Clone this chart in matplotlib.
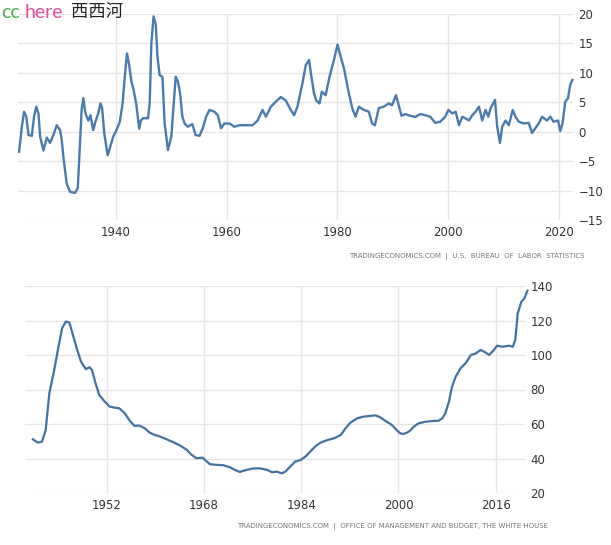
import numpy as np
import matplotlib.pyplot as plt

# inflation rate (top panel)
infl_year = [1922.5, 1923.0, 1923.4, 1923.8, 1924.2, 1924.8, 1925.2, 1925.6, 1926.0, 1926.3,
             1926.9, 1927.5, 1928.1, 1928.7, 1929.3, 1929.9, 1930.2, 1930.5, 1931.1, 1931.7,
             1932.6, 1933.1, 1933.5, 1933.8, 1934.1, 1934.5, 1935.0, 1935.4, 1935.9, 1936.3,
             1936.8, 1937.2, 1937.5, 1937.9, 1938.5, 1938.9, 1939.5, 1940.1, 1940.7, 1941.2,
             1941.6, 1942.0, 1942.4, 1942.8, 1943.2, 1943.7, 1944.2, 1944.5, 1944.9, 1945.8,
             1946.1, 1946.4, 1946.8, 1947.2, 1947.5, 1947.9, 1948.4, 1948.8, 1949.4, 1950.0,
             1950.4, 1950.8, 1951.2, 1951.6, 1952.0, 1952.4, 1953.0, 1953.8, 1954.4, 1955.1,
             1955.7, 1956.3, 1956.9, 1957.8, 1958.4, 1959.0, 1959.6, 1960.5, 1961.4, 1962.3,
             1963.5, 1964.7, 1965.6, 1966.5, 1967.1, 1968.0, 1968.9, 1969.8, 1970.7, 1971.6,
             1972.2, 1972.8, 1973.7, 1974.3, 1974.9, 1975.3, 1975.8, 1976.2, 1976.8, 1977.2,
             1977.9, 1978.6, 1979.4, 1980.05, 1980.6, 1981.2, 1981.5, 1982.1, 1982.7, 1983.3,
             1983.9, 1984.8, 1985.7, 1986.3, 1986.8, 1987.5, 1988.4, 1989.3, 1989.9, 1990.6,
             1991.1, 1991.6, 1992.3, 1993.2, 1994.1, 1995.0, 1995.9, 1996.8, 1997.7, 1998.6,
             1999.5, 2000.1, 2000.8, 2001.4, 2002.0, 2002.6, 2003.3, 2003.8, 2004.4, 2005.0,
             2005.6, 2006.2, 2006.8, 2007.3, 2007.7, 2008.5, 2008.9, 2009.4, 2009.8, 2010.4,
             2011.0, 2011.7, 2012.2, 2012.8, 2013.7, 2014.6, 2015.2, 2015.8, 2016.4, 2017.0,
             2017.9, 2018.5, 2019.1, 2019.9, 2020.3, 2020.7, 2021.2, 2021.7, 2022.1, 2022.5]
infl_value = [-3.4, 0.85, 3.4, 2.55, -0.56, -0.7, 2.55, 4.25, 3.1, -0.85,
              -3.2, -1.0, -1.9, -0.56, 1.1, 0.28, -1.4, -4.25, -8.8, -10.2,
              -10.4, -9.6, -1.9, 3.7, 5.7, 3.1, 1.9, 2.8, 0.28, 1.7,
              3.1, 4.8, 4.0, -0.3, -4.0, -2.8, -0.85, 0.28, 1.7, 4.8,
              9.35, 13.3, 11.3, 8.5, 7.1, 4.5, 0.5, 1.9, 2.3, 2.3,
              4.8, 15.0, 19.6, 18.2, 12.8, 9.6, 9.35, 1.4, -3.1, -0.85,
              4.25, 9.35, 8.5, 6.5, 2.55, 1.4, 0.85, 1.3, -0.56, -0.7,
              0.6, 2.55, 3.7, 3.4, 2.8, 0.6, 1.4, 1.4, 0.85, 1.1,
              1.1, 1.1, 1.9, 3.7, 2.55, 4.25, 5.1, 5.9, 5.3, 3.7,
              2.8, 4.25, 8.2, 11.3, 12.2, 9.5, 6.5, 5.3, 4.8, 6.8,
              6.2, 9.35, 12.2, 14.8, 12.8, 10.8, 9.35, 6.5, 4.0, 2.55,
              4.25, 3.7, 3.4, 1.4, 1.1, 4.0, 4.25, 4.8, 4.5, 6.2,
              4.5, 2.7, 3.0, 2.7, 2.5, 3.0, 2.8, 2.55, 1.5, 1.7,
              2.55, 3.7, 3.1, 3.4, 1.1, 2.55, 2.2, 1.9, 2.8, 3.4,
              4.25, 1.9, 3.7, 2.55, 4.0, 5.4, 0.85, -1.9, 0.85, 1.9,
              1.1, 3.7, 2.55, 1.7, 1.4, 1.5, -0.2, 0.6, 1.4, 2.55,
              1.9, 2.55, 1.7, 1.9, 0.1, 1.4, 5.1, 5.7, 8.0, 8.8]

# government debt to GDP (bottom panel)
debt_year = [1939.9, 1940.7, 1941.4, 1942.0, 1942.6, 1943.4, 1944.1, 1944.7, 1945.3, 1945.9,
             1946.4, 1947.1, 1947.8, 1948.6, 1949.2, 1949.6, 1950.2, 1950.8, 1951.7, 1952.5,
             1953.3, 1954.1, 1955.0, 1955.8, 1956.6, 1957.4, 1958.3, 1959.1, 1959.9, 1960.8,
             1961.9, 1963.0, 1964.1, 1965.2, 1966.0, 1966.8, 1967.8, 1968.5, 1969.0, 1970.1,
             1971.2, 1972.3, 1973.1, 1973.9, 1975.0, 1976.1, 1977.2, 1978.4, 1979.2, 1980.0,
             1980.8, 1981.4, 1982.2, 1983.0, 1983.9, 1984.7, 1985.5, 1986.4, 1987.2, 1988.3,
             1989.4, 1990.5, 1991.3, 1992.1, 1993.2, 1994.3, 1995.4, 1996.2, 1997.0, 1997.8,
             1998.7, 1999.2, 1999.8, 2000.3, 2000.8, 2001.4, 2001.9, 2002.5, 2003.3, 2004.4,
             2005.5, 2006.6, 2007.2, 2007.7, 2008.3, 2008.8, 2009.4, 2010.2, 2011.1, 2011.9,
             2012.7, 2013.5, 2014.1, 2014.9, 2015.6, 2016.2, 2017.1, 2018.2, 2018.8, 2019.2,
             2019.6, 2020.2, 2020.7, 2021.2]
debt_value = [51.1, 49.2, 49.8, 56.5, 77.8, 91.3, 104.8, 115.5, 119.4, 118.8,
              112.6, 103.9, 96.2, 91.8, 92.9, 91.3, 83.6, 76.8, 73.0, 70.1,
              69.5, 69.1, 66.2, 62.0, 58.9, 59.1, 57.5, 55.0, 53.7, 52.7,
              51.1, 49.4, 47.5, 45.0, 42.1, 40.1, 40.5, 38.2, 36.7, 36.3,
              36.1, 34.9, 33.4, 32.2, 33.4, 34.2, 34.3, 33.4, 32.0, 32.4,
              31.4, 32.4, 35.3, 38.2, 39.1, 41.1, 44.0, 47.3, 49.2, 50.7,
              51.7, 53.6, 57.5, 60.8, 63.3, 64.3, 64.7, 65.0, 63.9, 61.9,
              60.0, 58.4, 56.1, 54.6, 54.2, 55.0, 56.1, 58.4, 60.4, 61.3,
              61.7, 61.9, 63.3, 66.2, 73.0, 81.6, 87.4, 92.3, 95.5, 100.0,
              100.9, 102.9, 101.9, 100.0, 102.5, 105.4, 104.8, 105.4, 104.8, 108.7,
              124.1, 130.9, 132.8, 137.3]

top_xticks = [1940, 1960, 1980, 2000, 2020]
top_yticks = [-15, -10, -5, 0, 5, 10, 15, 20]
bot_xticks = [1952, 1968, 1984, 2000, 2016]
bot_yticks = [20, 40, 60, 80, 100, 120, 140]

W, H = 611, 545
fig = plt.figure(figsize=(W / 100, H / 100), dpi=100)
tick_font = ['Liberation Sans Narrow', 'DejaVu Sans']
line_color = '#4a7bab'
grid_color = '#e6e6e6'


def style(ax, xticks, yticks):
    for s in ax.spines.values():
        s.set_visible(False)
    ax.set_xticks(xticks)
    ax.set_yticks(yticks)
    ax.yaxis.tick_right()
    ax.tick_params(length=0, labelsize=8.5, labelcolor='#333333', pad=4)
    for lab in ax.get_xticklabels() + ax.get_yticklabels():
        lab.set_family(tick_font)
    for lab in ax.get_yticklabels():
        lab.set_horizontalalignment('left')
    ax.grid(True, color=grid_color, linewidth=1.0)
    ax.set_axisbelow(True)


# top panel
ax1 = fig.add_axes([18 / W, 1 - 220 / H, (573 - 18) / W, (220 - 14) / H])
ax1.plot(infl_year, infl_value, color=line_color, linewidth=1.7, clip_on=False)
ax1.set_xlim(1922.3, 2022.6)
ax1.set_ylim(-15, 20)
style(ax1, top_xticks, top_yticks)
fig.text(585 / W, 1 - 256 / H, 'TRADINGECONOMICS.COM  |  U.S.  BUREAU  OF  LABOR  STATISTICS',
         ha='right', va='center', fontsize=5, color='#777777', family=tick_font)

# bottom panel
ax2 = fig.add_axes([25 / W, 1 - 493 / H, (525 - 25) / W, (493 - 286) / H])
ax2.plot(debt_year, debt_value, color='#44729f', linewidth=1.6, clip_on=False)
ax2.set_xlim(1938.6, 2020.8)
ax2.set_ylim(20, 140)
style(ax2, bot_xticks, bot_yticks)
fig.text(548 / W, 1 - 526 / H,
         'TRADINGECONOMICS.COM  |  OFFICE OF MANAGEMENT AND BUDGET, THE WHITE HOUSE',
         ha='right', va='center', fontsize=5, color='#777777', family=tick_font)

# watermark
fig.text(1 / W, 1 - 12 / H, 'cc', color='#4caf50', fontsize=14, va='center', family=['Lato', 'DejaVu Sans'])
fig.text(25 / W, 1 - 12 / H, 'here', color='#e0509a', fontsize=14, va='center', family=['Lato', 'DejaVu Sans'])
fig.text(71 / W, 1 - 12 / H, '西西河', color='#222222', fontsize=12.5, va='center',
         family=['Noto Sans CJK SC', 'DejaVu Sans'])

fig.savefig('out.png', dpi=100)
plt.close(fig)
